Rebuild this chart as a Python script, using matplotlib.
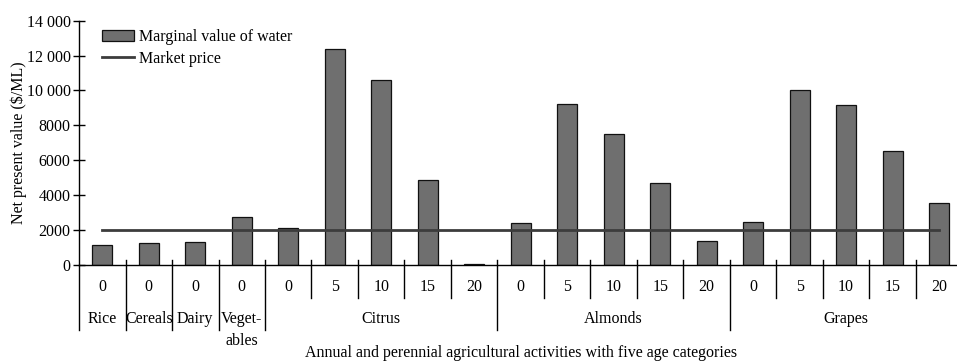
import matplotlib.pyplot as plt
from matplotlib.ticker import FuncFormatter

plt.rcParams['font.family'] = ['Liberation Serif', 'DejaVu Serif']

ages = ["0", "0", "0", "0", "0", "5", "10", "15", "20", "0", "5", "10", "15", "20",
        "0", "5", "10", "15", "20"]
crops = ["Rice", "Cereals", "Dairy", "Veget-\nables", "Citrus", "Almonds", "Grapes"]
crop_slots = [1, 1, 1, 1, 5, 5, 5]
marginal_value = [1150, 1260, 1340, 2730, 2140, 12350, 10600, 4870, 60,
                  2390, 9220, 7480, 4700, 1400, 2460, 10000, 9150, 6550, 3570]
market_price = [2000] * len(ages)

fig = plt.figure(figsize=(9.57, 3.62), dpi=100)
ax = fig.add_axes([0.0826, 0.268, 0.923, 0.675])

x = list(range(len(ages)))
bars = ax.bar(x, marginal_value, width=0.43, color="#6f6f6f", edgecolor="#111111",
              linewidth=0.9, label="Marginal value of water", zorder=2)
line, = ax.plot(x, market_price, color="#3c3c3c", linewidth=2, label="Market price", zorder=3)

ax.set_xlim(-0.5, len(ages) - 0.5)
ax.set_ylim(0, 14000)
ax.set_yticks(range(0, 14001, 2000))
ax.yaxis.set_major_formatter(FuncFormatter(
    lambda v, p: "{:,}".format(int(v)).replace(",", " ") if v >= 10000 else str(int(v))))
ax.tick_params(axis="y", direction="inout", length=8, width=1, labelsize=11.5, pad=2)
ax.set_xticks([])
for s in ["top", "right"]:
    ax.spines[s].set_visible(False)
ax.spines["left"].set_linewidth(1)
ax.spines["bottom"].set_linewidth(1)
ax.set_ylabel("Net present value ($/ML)", fontsize=11.5, labelpad=0)

# category table under the axis
tr = ax.get_xaxis_transform()
group_edges = [0]
for n in crop_slots:
    group_edges.append(group_edges[-1] + n)
for k in range(len(ages) + 1):
    bottom = -0.266 if k in group_edges else -0.135
    top = 0.0 if k == 0 else 0.02
    ax.plot([k - 0.5, k - 0.5], [top, bottom], color="black", linewidth=1,
            transform=tr, clip_on=False)
for i, a in enumerate(ages):
    ax.text(i, -0.09, a, transform=tr, ha="center", va="center", fontsize=11.5)
for name, start, n in zip(crops, group_edges[:-1], crop_slots):
    ax.text(start + (n - 1) / 2, -0.19, name, transform=tr, ha="center", va="top",
            fontsize=11.5, linespacing=1.45)
ax.text((len(ages) - 1) / 2, -0.362, "Annual and perennial agricultural activities with five age categories",
        transform=tr, ha="center", va="center", fontsize=11.5)

ax.legend([bars, line], ["Marginal value of water", "Market price"],
          loc="upper left", bbox_to_anchor=(0.015, 1.005), frameon=False, fontsize=11.5,
          handlelength=2.0, handletextpad=0.3, labelspacing=0.35, borderaxespad=0.2)

fig.savefig("out.png", dpi=100)
